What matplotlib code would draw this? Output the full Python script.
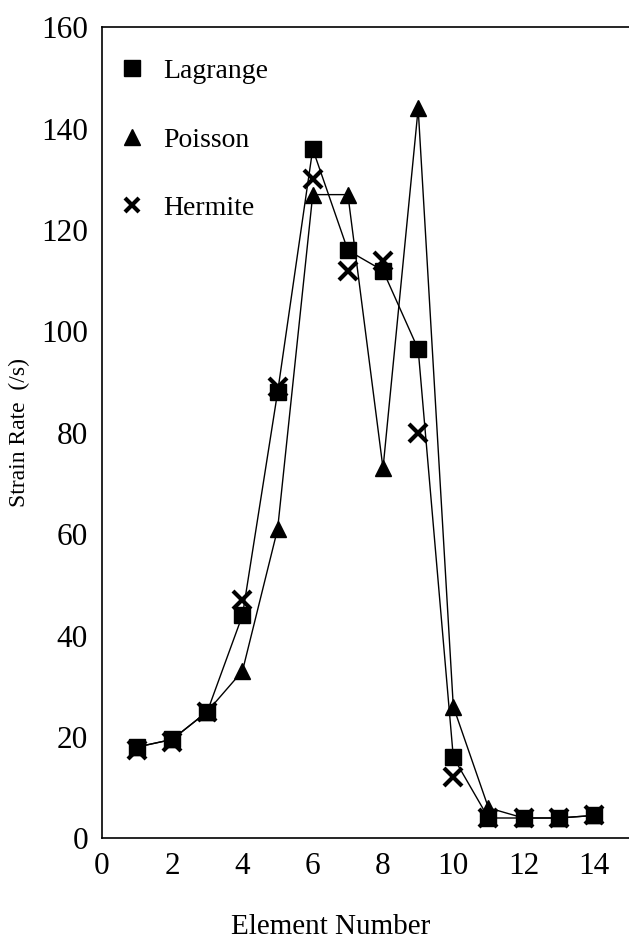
import matplotlib.pyplot as plt
from matplotlib.lines import Line2D

elements = [1, 2, 3, 4, 5, 6, 7, 8, 9, 10, 11, 12, 13, 14]
lagrange = [18, 19.5, 25, 44, 88, 136, 116, 112, 96.5, 16, 4, 4, 4, 4.5]
poisson = [18, 19.5, 25, 33, 61, 127, 127, 73, 144, 26, 6, 4, 4, 4.5]
hermite = [17.5, 19, 25, 47, 89, 130, 112, 114, 80, 12, 4, 4, 4, 4.5]

plt.rcParams['font.family'] = ['Liberation Serif', 'DejaVu Serif']

fig = plt.figure(figsize=(6.29, 9.44), dpi=100)
ax = fig.add_axes([0.162, 0.112, 0.838, 0.859])

ax.plot(elements, lagrange, color='black', lw=1, marker='s', ms=11)
ax.plot(elements, poisson, color='black', lw=1, marker='^', ms=12)
ax.plot(elements, hermite, color='black', marker='x', ms=13, mew=3,
        linestyle='none')

ax.set_xlim(0, 15)
ax.set_ylim(0, 160)
ax.set_xticks(range(0, 15, 2))
ax.set_yticks(range(0, 161, 20))
ax.tick_params(length=0, labelsize=22.5, pad=10)
ax.spines['right'].set_visible(False)
for s in ['left', 'bottom', 'top']:
    ax.spines[s].set_linewidth(1.2)

ax.set_xlabel('Element Number', fontsize=21)
ax.set_ylabel('Strain Rate  (/s)', fontsize=17)
ax.xaxis.set_label_coords(0.433, -0.094)
ax.yaxis.set_label_coords(-0.137, 0.5)

# legend shows only the markers
handles = [
    Line2D([], [], color='black', marker='s', ms=11, linestyle='none'),
    Line2D([], [], color='black', marker='^', ms=12, linestyle='none'),
    Line2D([], [], color='black', marker='x', ms=10, mew=3, linestyle='none'),
]
ax.legend(handles, ['Lagrange', 'Poisson', 'Hermite'], loc='upper left',
          frameon=False, fontsize=20, labelspacing=1.55, handlelength=1.0,
          handletextpad=0.6, borderaxespad=0.0, bbox_to_anchor=(0.01, 0.975))

fig.savefig('out.png', dpi=100)
